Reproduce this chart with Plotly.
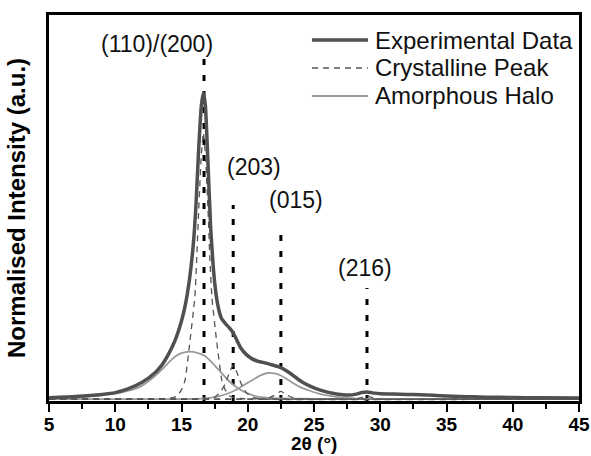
import plotly.graph_objects as go

# ---------------- data ----------------
exp_x = [5, 7, 9, 10, 11, 12, 13, 13.5, 14, 14.5, 15, 15.3, 15.6, 15.9, 16.1, 16.3, 16.5, 16.65,
         16.8, 17.0, 17.2, 17.4, 17.6, 17.8, 18.0, 18.3, 18.6, 18.9, 19.2, 19.5, 19.9, 20.3, 20.8,
         21.3, 21.8, 22.3, 22.7, 23.2, 23.7, 24.2, 24.7, 25.2, 25.8, 26.4, 27.0, 27.6, 28.2, 28.6,
         29.0, 29.4, 30, 31, 32, 33, 34, 35, 36, 37, 38, 40, 42, 45]
exp_y = [0.004, 0.008, 0.015, 0.021, 0.034, 0.054, 0.086, 0.11, 0.145, 0.19, 0.255, 0.31, 0.39, 0.51,
         0.64, 0.82, 0.96, 1.0, 0.96, 0.77, 0.56, 0.43, 0.345, 0.295, 0.265, 0.247, 0.233, 0.216, 0.19,
         0.165, 0.145, 0.132, 0.123, 0.118, 0.112, 0.106, 0.098, 0.084, 0.068, 0.053, 0.042, 0.033,
         0.025, 0.019, 0.015, 0.013, 0.016, 0.021, 0.023, 0.020, 0.017, 0.016, 0.015, 0.014, 0.012,
         0.010, 0.008, 0.007, 0.006, 0.005, 0.004, 0.003]

# crystalline peaks (dashed)
cr1_x = [5, 12, 14.0, 14.6, 15.0, 15.26, 15.64, 16.0, 16.14, 16.3, 16.5, 16.65, 16.8, 17.0, 17.15,
         17.3, 17.65, 18.05, 18.3, 18.7, 19.3, 21, 45]
cr1_y = [0.0, 0.0, 0.002, 0.008, 0.03, 0.06, 0.19, 0.33, 0.45, 0.62, 0.80, 0.87, 0.80, 0.62, 0.45,
         0.33, 0.19, 0.06, 0.03, 0.008, 0.002, 0.0, 0.0]
cr2_x = [5, 16.5, 17.4, 17.9, 18.3, 18.6, 18.9, 19.2, 19.5, 19.9, 20.4, 21.0, 45]
cr2_y = [0.0, 0.0, 0.004, 0.02, 0.05, 0.085, 0.11, 0.085, 0.05, 0.02, 0.005, 0.0, 0.0]
cr3_x = [5, 21.0, 21.5, 22.0, 22.5, 23.0, 23.5, 24.0, 45]
cr3_y = [0.0, 0.0, 0.002, 0.012, 0.025, 0.012, 0.002, 0.0, 0.0]
cr4_x = [5, 28.0, 28.3, 28.7, 29.0, 29.3, 29.7, 30.0, 45]
cr4_y = [0.0, 0.0, 0.001, 0.006, 0.010, 0.006, 0.001, 0.0, 0.0]

# amorphous halos (light solid)
am1_x = [5, 7, 9, 10, 11, 12, 13, 13.5, 14, 14.5, 15, 15.6, 16.2, 16.8, 17.4, 18, 18.6, 19.2,
         19.8, 20.4, 21, 22, 24, 26, 45]
am1_y = [0.003, 0.006, 0.013, 0.018, 0.027, 0.043, 0.075, 0.095, 0.118, 0.138, 0.15, 0.155,
         0.151, 0.14, 0.115, 0.086, 0.058, 0.037, 0.022, 0.012, 0.006, 0.003, 0.001, 0.0, 0.0]
am2_x = [5, 16, 17, 17.8, 18.5, 19.2, 19.8, 20.4, 21, 21.5, 22, 22.5, 23, 23.5, 24, 24.7, 25.5,
         26.2, 27, 28, 30, 45]
am2_y = [0.0, 0.0, 0.003, 0.009, 0.018, 0.032, 0.048, 0.063, 0.078, 0.085, 0.084, 0.077, 0.064,
         0.05, 0.038, 0.027, 0.016, 0.01, 0.005, 0.002, 0.0, 0.0]

# reflection markers
peak_pos = [16.7, 18.9, 22.5, 29.0]
peak_top = [1.118, 0.634, 0.562, 0.363]
peak_labels = ["(110)/(200)", "(203)", "(015)", "(216)"]
label_x = [13.15, 20.47, 23.64, 28.85]
label_y = [1.16, 0.758, 0.65, 0.428]

series_names = ["Experimental Data", "Crystalline Peak", "Amorphous Halo"]
x_ticks = [5, 10, 15, 20, 25, 30, 35, 40, 45]
x_title = "2θ (°)"
y_title = "Normalised Intensity (a.u.)"
y_min, y_max = -0.0065, 1.255

# ---------------- styles ----------------
FONT = "Liberation Sans, Arial, sans-serif"
EXP_LINE = dict(color="#505050", width=3.5, shape="spline", smoothing=0.5)
CR_LINE = dict(color="#555555", width=1.3, dash="6px,5px", shape="spline", smoothing=0.5)
AM_LINE = dict(color="#9a9a9a", width=1.8, shape="spline", smoothing=0.5)

fig = go.Figure()

# reflection marker lines
for xp, yt in zip(peak_pos, peak_top):
    fig.add_trace(go.Scatter(x=[xp, xp], y=[y_min, yt], mode="lines", showlegend=False,
                             line=dict(color="black", width=3, dash="6px,10px"), hoverinfo="skip"))

for xx, yy in [(am1_x, am1_y), (am2_x, am2_y)]:
    fig.add_trace(go.Scatter(x=xx, y=yy, mode="lines", name=series_names[2],
                             showlegend=False, line=AM_LINE))

for xx, yy in [(cr1_x, cr1_y), (cr2_x, cr2_y), (cr3_x, cr3_y), (cr4_x, cr4_y)]:
    fig.add_trace(go.Scatter(x=xx, y=yy, mode="lines", name=series_names[1],
                             showlegend=False, line=CR_LINE))

fig.add_trace(go.Scatter(x=exp_x, y=exp_y, mode="lines", name=series_names[0],
                         showlegend=False, line=EXP_LINE))

for lx, ly, txt in zip(label_x, label_y, peak_labels):
    fig.add_annotation(x=lx, y=ly, text=txt, showarrow=False,
                       font=dict(family=FONT, size=23, color="#111111"))

# legend (sample line + label), placed in paper coordinates
leg_styles = [dict(color="#505050", width=3.5),
              dict(color="#555555", width=1.3, dash="6px,5px"),
              dict(color="#9a9a9a", width=1.8)]
leg_x0, leg_x1, leg_tx = 0.4962, 0.6019, 0.6113
leg_rows = [0.9352, 0.8627, 0.7902]
for name, st, yy in zip(series_names, leg_styles, leg_rows):
    fig.add_shape(type="line", xref="paper", yref="paper", x0=leg_x0, x1=leg_x1, y0=yy, y1=yy,
                  line=st)
    fig.add_annotation(xref="paper", yref="paper", x=leg_tx, y=yy, xanchor="left",
                       yanchor="middle", text=name, showarrow=False,
                       font=dict(family=FONT, size=24, color="#111111"))

# x-axis title (placed just under the tick labels, as in the reference)
fig.add_annotation(xref="paper", yref="paper", x=0.5, y=-0.111, xanchor="center",
                   yanchor="middle", text="<b>" + x_title + "</b>", showarrow=False,
                   font=dict(family=FONT, size=19, color="black"))

fig.update_layout(
    width=591, height=456,
    margin=dict(l=49, r=12, t=15, b=55),
    paper_bgcolor="white", plot_bgcolor="white",
    font=dict(family=FONT, color="black"),
    showlegend=False,
)
fig.update_xaxes(range=[5, 45], tickvals=x_ticks, ticktext=[str(v) for v in x_ticks],
                 showgrid=False, zeroline=False, automargin=False,
                 showline=True, linecolor="black", linewidth=2.5, mirror=True,
                 ticks="outside", ticklen=8, tickwidth=2, tickcolor="black",
                 ticklabelstandoff=-4,
                 minor=dict(ticks="outside", ticklen=5, tickwidth=2, tickcolor="black", dtick=2.5),
                 tickfont=dict(family=FONT, size=19, color="black", weight="bold"))
fig.update_yaxes(range=[y_min, y_max], showticklabels=False, ticks="",
                 showgrid=False, zeroline=False, automargin=False,
                 showline=True, linecolor="black", linewidth=2.5, mirror=True,
                 title=dict(text="<b>" + y_title + "</b>",
                            font=dict(family=FONT, size=24, color="black"), standoff=14))

fig.write_html("out.html", config={"displayModeBar": False},
               post_script="document.body.style.margin='0';")
